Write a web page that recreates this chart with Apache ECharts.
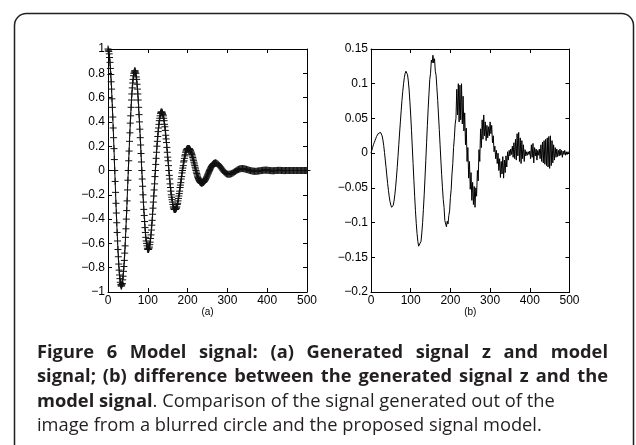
<!DOCTYPE html>
<html><head><meta charset="utf-8">
<script src="https://cdn.jsdelivr.net/npm/echarts@6/dist/echarts.min.js"></script>
<style>html,body{margin:0;padding:0;background:#fff}#c{width:636px;height:445px}</style>
</head><body><div id="c"></div>
<script>
// ---------- DATA ----------
const xTicks = [0, 100, 200, 300, 400, 500];
const leftYTicks = [-1, -0.8, -0.6, -0.4, -0.2, 0, 0.2, 0.4, 0.6, 0.8, 1];
const rightYTicks = [-0.2, -0.15, -0.1, -0.05, 0, 0.05, 0.1, 0.15];
const panelNames = ['(a)', '(b)'];

// (a) generated signal z / model signal, sampled every 1 from x = 0
const zFineStart = 0, zFineStep = 1;
const zFine = [
  1.00, 0.99, 0.98, 0.96, 0.93, 0.89, 0.84, 0.79, 0.73, 0.67,
  0.59, 0.52, 0.44, 0.35, 0.27, 0.18, 0.09, 0.00, -0.09, -0.18,
  -0.27, -0.35, -0.43, -0.51, -0.58, -0.65, -0.71, -0.77, -0.82, -0.86,
  -0.89, -0.92, -0.94, -0.95, -0.95, -0.94, -0.93, -0.90, -0.87, -0.83,
  -0.79, -0.74, -0.68, -0.62, -0.55, -0.48, -0.40, -0.33, -0.25, -0.16,
  -0.08, 0.00, 0.08, 0.16, 0.24, 0.31, 0.39, 0.45, 0.52, 0.58,
  0.63, 0.68, 0.72, 0.75, 0.78, 0.80, 0.81, 0.82, 0.82, 0.81,
  0.80, 0.77, 0.75, 0.71, 0.67, 0.63, 0.58, 0.52, 0.46, 0.40,
  0.34, 0.27, 0.21, 0.14, 0.07, 0.00, -0.07, -0.13, -0.20, -0.26,
  -0.32, -0.37, -0.42, -0.47, -0.51, -0.55, -0.58, -0.60, -0.62, -0.64,
  -0.65, -0.65, -0.65, -0.64, -0.63, -0.61, -0.59, -0.56, -0.53, -0.49,
  -0.45, -0.41, -0.36, -0.31, -0.26, -0.21, -0.16, -0.11, -0.05, 0.00,
  0.05, 0.10, 0.15, 0.20, 0.24, 0.28, 0.32, 0.35, 0.38, 0.41,
  0.43, 0.45, 0.47, 0.48, 0.48, 0.48, 0.48, 0.47, 0.46, 0.45,
  0.43, 0.41, 0.38, 0.36, 0.33, 0.29, 0.26, 0.23, 0.19, 0.15,
  0.11, 0.08, 0.04, 0.00, -0.04, -0.07, -0.11, -0.14, -0.17, -0.20,
  -0.22, -0.24, -0.26, -0.28, -0.30, -0.31, -0.32, -0.32, -0.32, -0.32,
  -0.32, -0.31, -0.31, -0.30, -0.28, -0.27, -0.25, -0.23, -0.21, -0.19,
  -0.17, -0.14, -0.12, -0.10, -0.07, -0.05, -0.02, 0.00, 0.02, 0.04,
  0.07, 0.08, 0.10, 0.12, 0.13, 0.15, 0.16, 0.17, 0.17, 0.18,
  0.18, 0.18, 0.18, 0.18, 0.180, 0.177, 0.172, 0.166, 0.159, 0.150,
  0.141, 0.131, 0.119, 0.107, 0.094, 0.081, 0.068, 0.054, 0.040, 0.027,
  0.013, 0.000, -0.013, -0.025, -0.036, -0.047, -0.057, -0.066, -0.075, -0.082,
  -0.088, -0.093, -0.097, -0.100, -0.102, -0.103, -0.103, -0.102, -0.100, -0.098,
  -0.096, -0.093, -0.089, -0.084, -0.079, -0.073, -0.067, -0.060, -0.053, -0.046,
  -0.038, -0.031, -0.023, -0.015, -0.007, 0.000, 0.007, 0.014, 0.021, 0.027,
  0.033, 0.038, 0.043, 0.048, 0.051, 0.054, 0.057, 0.059, 0.060, 0.061,
  0.061, 0.061
];
// (a) continued, sampled every 2 from x = 272
const zCoarseStart = 272, zCoarseStep = 2;
const zCoarse = [
  0.060, 0.057, 0.053, 0.047, 0.039, 0.031, 0.022, 0.013, 0.004, -0.004,
  -0.012, -0.018, -0.023, -0.027, -0.030, -0.031, -0.031, -0.030, -0.029, -0.026,
  -0.023, -0.020, -0.015, -0.011, -0.007, -0.002, 0.002, 0.006, 0.009, 0.012,
  0.014, 0.015, 0.016, 0.016, 0.015, 0.014, 0.013, 0.011, 0.009, 0.007,
  0.005, 0.003, 0.001, -0.001, -0.002, -0.004, -0.005, -0.006, -0.006, -0.007,
  -0.007, -0.006, -0.005, -0.004, -0.003, -0.002, -0.001, 0.000, 0.001, 0.002,
  0.002, 0.003, 0.003, 0.003, 0.002, 0.002, 0.001, 0.000, -0.001, -0.001,
  -0.002, -0.002, -0.002, -0.001, -0.001, 0.000, 0.000, 0.001, 0.001, 0.001,
  0.001, 0.001, 0.000, 0.000, 0.000, -0.001, -0.001, 0.000, 0.000, 0.000,
  0.000, 0.000, 0.000, 0.000, 0.000, 0.000, 0.000, 0.000, 0.000, 0.000,
  0.000, 0.000, 0.000, 0.000, 0.000, 0.000, 0.000, 0.000, 0.000, 0.000,
  0.000, 0.000, 0.000, 0.000, 0.000
];

// (b) difference signal, sampled every 2 from x = 0
const diffStart = 0, diffStep = 2;
const diff = [
  0, 0.004, 0.008, 0.012, 0.015, 0.018, 0.021, 0.024, 0.026, 0.028,
  0.029, 0.030, 0.030, 0.029, 0.025, 0.019, 0.011, 0.001, -0.010, -0.021,
  -0.033, -0.044, -0.054, -0.063, -0.070, -0.075, -0.078, -0.078, -0.075, -0.069,
  -0.060, -0.049, -0.036, -0.021, -0.005, 0.012, 0.029, 0.045, 0.061, 0.076,
  0.089, 0.100, 0.109, 0.115, 0.118, 0.117, 0.113, 0.104, 0.091, 0.074,
  0.055, 0.033, 0.009, -0.015, -0.039, -0.062, -0.083, -0.101, -0.116, -0.127,
  -0.134, -0.136, -0.134, -0.127, -0.115, -0.100, -0.081, -0.060, -0.036, -0.011,
  0.015, 0.040, 0.064, 0.085, 0.106, 0.115, 0.134, 0.130, 0.141, 0.130,
  0.136, 0.118, 0.112, 0.094, 0.076, 0.055, 0.034, 0.012, -0.010, -0.031,
  -0.050, -0.067, -0.078, -0.097, -0.096, -0.106, -0.098, -0.102, -0.090, -0.083,
  -0.064, -0.052, -0.030, -0.015, 0.008, 0.022, 0.042, 0.050, 0.092, 0.055,
  0.100, 0.045, 0.098, 0.048, 0.100, 0.042, 0.082, 0.032, 0.058, 0.012,
  0.036, -0.012, 0.008, -0.036, -0.012, -0.052, -0.028, -0.068, -0.042, -0.074,
  -0.048, -0.078, -0.050, -0.062, -0.025, -0.040, 0.005, -0.012, 0.035, 0.008,
  0.048, 0.020, 0.055, 0.025, 0.045, 0.018, 0.040, 0.022, 0.038, 0.025,
  0.045, 0.028, 0.040, 0.015, 0.025, 0.002, 0.010, -0.008, 0.004, -0.015,
  0.000, -0.025, -0.008, -0.035, -0.012, -0.030, -0.005, -0.036, -0.010, -0.028,
  -0.004, -0.020, 0.002, -0.010, 0.004, -0.004, 0.006, -0.002, 0.010, -0.006,
  0.015, -0.008, 0.020, -0.010, 0.028, -0.004, 0.030, -0.012, 0.022, -0.015,
  0.018, -0.008, 0.012, -0.012, 0.005, -0.004, 0.002, -0.003, 0.002, -0.002,
  0.003, -0.008, 0.012, -0.006, 0.014, -0.014, 0.008, -0.004, 0.006, -0.010,
  0.004, -0.003, 0.006, -0.008, 0.012, -0.012, 0.016, -0.014, 0.018, -0.016,
  0.020, -0.018, 0.022, -0.020, 0.024, -0.022, 0.025, -0.018, 0.018, -0.014,
  0.012, -0.010, 0.008, -0.006, 0.006, -0.005, 0.004, -0.004, 0.006, -0.003,
  0.004, -0.006, 0.003, -0.002, 0.004, -0.003, 0.002, -0.002, 0.002, 0.000,
  0.000
];

const captionLines = [
  {justify: true, parts: [{t: 'Figure 6 Model signal: (a) Generated signal z and model', b: true}]},
  {justify: true, parts: [{t: 'signal; (b) difference between the generated signal z and the', b: true}]},
  {justify: false, parts: [{t: 'model signal', b: true}, {t: '. Comparison of the signal generated out of the', b: false}]},
  {justify: false, parts: [{t: 'image from a blurred circle and the proposed signal model.', b: false}]}
];

// ---------- BUILD ----------
const toPts = (arr, start, step) => arr.map((v, i) => [start + i * step, v]);
const zPoints = toPts(zFine, zFineStart, zFineStep).concat(toPts(zCoarse, zCoarseStart, zCoarseStep));
const diffPoints = toPts(diff, diffStart, diffStep);

const fmt = v => String(Number(v.toFixed(3))).replace('-', '\u2212');
const AX_FONT = 'Liberation Sans, Arial, Helvetica, sans-serif';
const lineC = '#000';

function xAxesFor(g, name) {
  const base = {
    type: 'value', gridIndex: g, min: xTicks[0], max: xTicks[xTicks.length - 1],
    interval: xTicks[1] - xTicks[0],
    axisLine: {show: true, onZero: false, lineStyle: {color: lineC, width: 1}},
    axisTick: {show: true, inside: true, length: 4, lineStyle: {color: lineC, width: 1}},
    splitLine: {show: false}
  };
  return [
    Object.assign({}, base, {
      position: 'bottom',
      axisLabel: {color: '#000', fontSize: 12, fontFamily: AX_FONT, margin: 3},
      name: name, nameLocation: 'middle', nameGap: 15, nameMoveOverlap: false,
      nameTextStyle: {color: '#000', fontSize: 10, fontFamily: AX_FONT}
    }),
    Object.assign({}, base, {position: 'top', axisLabel: {show: false}})
  ];
}
function yAxesFor(g, ticks) {
  const base = {
    type: 'value', gridIndex: g, min: ticks[0], max: ticks[ticks.length - 1],
    interval: Number((ticks[1] - ticks[0]).toFixed(3)),
    axisLine: {show: true, onZero: false, lineStyle: {color: lineC, width: 1}},
    axisTick: {show: true, inside: true, length: 4, lineStyle: {color: lineC, width: 1}},
    splitLine: {show: false}
  };
  return [
    Object.assign({}, base, {
      position: 'left',
      axisLabel: {color: '#000', fontSize: 12, fontFamily: AX_FONT, margin: 3, formatter: fmt}
    }),
    Object.assign({}, base, {position: 'right', axisLabel: {show: false}})
  ];
}

const plusSym = 'path://M0,4L8,4M4,0L4,8';

// caption layout (justified first two lines, like the printed figure)
const CAP_SIZE = 18.3, CAP_LEFT = 37, CAP_RIGHT = 608, CAP_TOP = 344, CAP_PITCH = 24.2;
const capFontCss = '"Open Sans"';
const mctx = document.createElement('canvas').getContext('2d');
const measure = (s, bold) => {
  mctx.font = (bold ? 'bold ' : 'normal ') + CAP_SIZE + 'px ' + capFontCss;
  return mctx.measureText(s).width;
};
const capStyle = bold => ({fontFamily: capFontCss, fontWeight: bold ? 'bold' : 'normal', fontSize: CAP_SIZE, fill: '#231f20'});
const capGraphics = [];
captionLines.forEach((line, i) => {
  const top = CAP_TOP + i * CAP_PITCH;
  if (line.justify) {
    const bold = line.parts[0].b;
    const words = line.parts[0].t.split(' ');
    const widths = words.map(w => measure(w, bold));
    const total = widths.reduce((a, b) => a + b, 0);
    const gap = (CAP_RIGHT - CAP_LEFT - total) / (words.length - 1);
    let x = CAP_LEFT;
    words.forEach((w, j) => {
      capGraphics.push({type: 'text', left: x, top: top, silent: true,
        style: Object.assign({text: w}, capStyle(bold))});
      x += widths[j] + gap;
    });
  } else {
    capGraphics.push({type: 'text', left: CAP_LEFT, top: top, silent: true,
      style: {
        rich: {b: capStyle(true), r: capStyle(false)},
        text: line.parts.map(p => '{' + (p.b ? 'b' : 'r') + '|' + p.t + '}').join('')
      }});
  }
});

const option = {
  animation: false,
  backgroundColor: '#fff',
  grid: [
    {left: 108, top: 49, width: 199, height: 243},
    {left: 371, top: 49, width: 198.5, height: 243}
  ],
  xAxis: xAxesFor(0, panelNames[0]).concat(xAxesFor(1, panelNames[1])),
  yAxis: yAxesFor(0, leftYTicks).concat(yAxesFor(1, rightYTicks)),
  series: [
    {
      type: 'line', xAxisIndex: 0, yAxisIndex: 0, data: zPoints,
      symbol: plusSym, symbolSize: 7, showAllSymbol: true, clip: false,
      lineStyle: {color: '#000', width: 1},
      itemStyle: {color: 'none', borderColor: '#111', borderWidth: 1},
      emphasis: {disabled: true}
    },
    {
      type: 'line', xAxisIndex: 2, yAxisIndex: 2, data: diffPoints,
      symbol: 'none', lineStyle: {color: '#000', width: 1},
      emphasis: {disabled: true}
    }
  ],
  graphic: [
    {type: 'rect', shape: {x: 14.5, y: 13.5, width: 619, height: 470, r: 12},
     style: {fill: 'none', stroke: '#231f20', lineWidth: 1.5}, silent: true}
  ].concat(capGraphics)
};

const chart = echarts.init(document.getElementById('c'), null, {renderer: 'canvas'});
chart.setOption(option);
</script></body></html>
